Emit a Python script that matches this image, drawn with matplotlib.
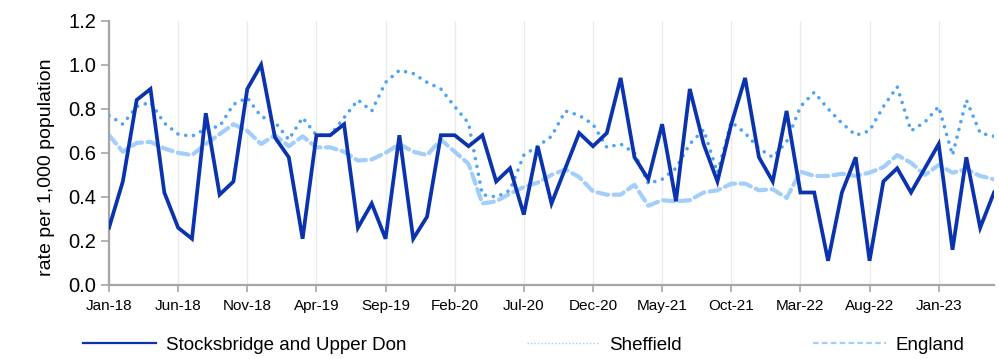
import numpy as np
import pandas as pd
import matplotlib
matplotlib.use("Agg")
import matplotlib.pyplot as plt
from matplotlib.lines import Line2D

plt.rcParams['font.family'] = ['Liberation Sans', 'DejaVu Sans']

# monthly rates per 1,000 population, Jan 2018 - May 2023
months = pd.date_range('2018-01-01', periods=65, freq='MS')

stocksbridge = [
    0.26, 0.47, 0.84, 0.89, 0.42, 0.26, 0.21, 0.78, 0.41, 0.47,
    0.89, 1.00, 0.67, 0.58, 0.21, 0.68, 0.68, 0.73, 0.26, 0.37,
    0.21, 0.68, 0.21, 0.31, 0.68, 0.68, 0.63, 0.68, 0.47, 0.53,
    0.32, 0.63, 0.37, 0.53, 0.69, 0.63, 0.69, 0.94, 0.58, 0.48,
    0.73, 0.38, 0.89, 0.64, 0.47, 0.73, 0.94, 0.58, 0.47, 0.79,
    0.42, 0.42, 0.11, 0.42, 0.58, 0.11, 0.47, 0.53, 0.42, 0.53,
    0.64, 0.16, 0.58, 0.26, 0.42,
]
sheffield = [
    0.77, 0.73, 0.81, 0.83, 0.735, 0.685, 0.675, 0.71, 0.72, 0.82,
    0.85, 0.765, 0.74, 0.66, 0.76, 0.68, 0.68, 0.76, 0.84, 0.79,
    0.92, 0.975, 0.96, 0.92, 0.89, 0.81, 0.735, 0.41, 0.40, 0.43,
    0.59, 0.63, 0.675, 0.79, 0.77, 0.73, 0.625, 0.64, 0.60, 0.46,
    0.48, 0.53, 0.64, 0.705, 0.51, 0.74, 0.69, 0.62, 0.58, 0.65,
    0.81, 0.875, 0.80, 0.735, 0.68, 0.70, 0.81, 0.90, 0.70, 0.74,
    0.81, 0.59, 0.84, 0.69, 0.675,
]
england = [
    0.68, 0.605, 0.645, 0.65, 0.62, 0.60, 0.59, 0.64, 0.685, 0.73,
    0.70, 0.64, 0.68, 0.63, 0.675, 0.625, 0.625, 0.605, 0.565, 0.57,
    0.60, 0.64, 0.605, 0.59, 0.66, 0.605, 0.55, 0.37, 0.38, 0.415,
    0.445, 0.465, 0.50, 0.525, 0.49, 0.425, 0.41, 0.41, 0.455, 0.36,
    0.385, 0.38, 0.385, 0.42, 0.43, 0.46, 0.46, 0.43, 0.435, 0.395,
    0.515, 0.495, 0.495, 0.505, 0.495, 0.51, 0.535, 0.59, 0.555, 0.50,
    0.545, 0.51, 0.525, 0.495, 0.48,
]

names = ['Stocksbridge and Upper Don', 'Sheffield', 'England']
colors = ['#0A33AD', '#4DA3F5', '#A3CEFA']

x = np.arange(len(months))
tick_pos = x[::5]
tick_labels = [m.strftime('%b-%y') for m in months[::5]]

fig = plt.figure(figsize=(9.99, 3.59), dpi=100)
ax = fig.add_axes([109 / 999, 74 / 359, 885 / 999, 264.3 / 359])

ax.plot(x, england, color=colors[2], lw=3.0, linestyle=(0, (2.6, 1.3)),
        dash_capstyle='round', zorder=2)
ax.plot(x, sheffield, color=colors[1], lw=2.6, linestyle=(0, (0.01, 2.2)),
        dash_capstyle='round', zorder=3)
ax.plot(x, stocksbridge, color=colors[0], lw=2.7, zorder=4,
        solid_joinstyle='miter')

ax.set_xlim(0, len(x) - 1)
ax.set_ylim(0, 1.2)
ax.set_yticks(np.arange(0, 1.21, 0.2))
ax.set_yticklabels([f'{v:.1f}' for v in np.arange(0, 1.21, 0.2)], fontsize=14.5)
ax.set_xticks(tick_pos)
ax.set_xticklabels(tick_labels, fontsize=11)
ax.tick_params(axis='y', length=6, width=1.2, color='#A6A6A6', pad=3)
ax.tick_params(axis='x', length=5, width=1.2, color='#A6A6A6', pad=5)
ax.grid(axis='x', color='#EBEBEB', lw=1.0)
ax.set_axisbelow(True)
for side in ['top', 'right']:
    ax.spines[side].set_visible(False)
for side in ['left', 'bottom']:
    ax.spines[side].set_color('#A6A6A6')
    ax.spines[side].set_linewidth(1.6)

fig.text(47 / 999, (359 - 167) / 359, 'rate per 1,000 population',
         rotation=90, ha='center', va='center', fontsize=14)

# legend entries spaced out along the bottom
handles = [
    Line2D([], [], color=colors[0], lw=1.6),
    Line2D([], [], color=colors[1], lw=1.0, alpha=0.5, linestyle=(0, (1, 1.5))),
    Line2D([], [], color=colors[2], lw=1.6, linestyle=(0, (2.5, 1.5))),
]
starts = [83, 527, 813]
for h, name, xs in zip(handles, names, starts):
    fig.legend([h], [name], loc='center left',
               bbox_to_anchor=(xs / 999, 14 / 359), frameon=False,
               fontsize=13.5, handlelength=3.9, handletextpad=0.5,
               borderpad=0, borderaxespad=0)

fig.savefig('out.png', dpi=100)
